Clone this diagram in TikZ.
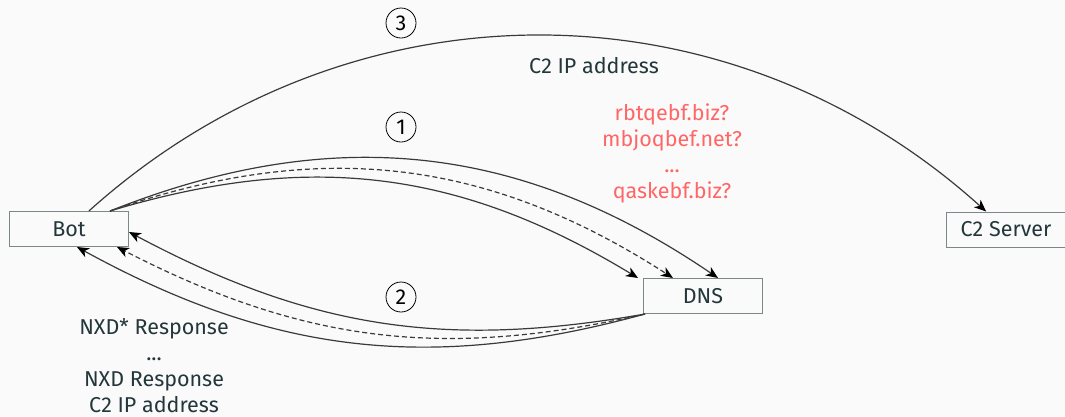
\documentclass[tikz,border=0pt]{standalone}
\usepackage{fontspec}
\setmainfont{Fira Sans}
\usetikzlibrary{arrows.meta}
\definecolor{bgc}{HTML}{FAFAFA}
\definecolor{tealdark}{HTML}{23373B}
\definecolor{redtxt}{HTML}{FF6666}
\definecolor{boxline}{RGB}{123,135,137}
\definecolor{arcline}{HTML}{3A3A3A}
\begin{document}
\begin{tikzpicture}[x=1pt,y=1pt,
  every node/.style={font=\fontsize{21.5}{26}\selectfont, text=tealdark},
  box/.style={draw=boxline, line width=1pt, minimum width=119, minimum height=35, inner sep=0pt},
  circ/.style={circle, draw=black, line width=0.8pt, minimum size=30, inner sep=0pt, text=black},
  arc/.style={draw=arcline, line width=1.2pt, -{Stealth[length=12pt,width=10pt,inset=3.5pt,fill=black,color=black]}},
  dash5/.style={dash pattern=on 5pt off 3pt}
]
\path[fill=bgc] (0,0) rectangle (1065,-416);
\useasboundingbox (0,0) rectangle (1065,-416);

\node[box] (bot) at (69,-229) {Bot};
\node[box] (dns) at (703,-296) {DNS};
\node[box] (c2) at (1006,-229.5) {C2 Server};

% step 3
\draw[arc] (bot) to[bend left=42] (c2);

% step 1
\coordinate (b1) at ([xshift=41]bot.north);
\coordinate (d1) at ([xshift=-65]dns.north);
\coordinate (d2) at ([xshift=-30]dns.north);
\coordinate (d3) at ([xshift=15]dns.north);
\draw[arc] (b1) to[bend left=24] (d1);
\draw[arc,dash5] (b1) to[bend left=26] (d2);
\draw[arc] (b1) to[bend left=28] (d3);

% step 2
\coordinate (s2) at ([xshift=2]dns.south west);
\coordinate (e1) at ([yshift=-3]bot.east);
\coordinate (e2) at ([xshift=48]bot.south);
\coordinate (e3) at ([xshift=8]bot.south);
\draw[arc] (s2) to[bend left=19] (e1);
\draw[arc,dash5] (s2) to[bend left=20] (e2);
\draw[arc] (s2) to[bend left=22] (e3);

\node[circ] (n3) at (401,-23) {3};
\node[circ] (n1) at (401,-127) {1};
\node[circ] (n2) at (401,-297) {2};

\node[anchor=base] (t3) at (594,-73) {C2 IP address};
\node[anchor=base, align=center, text=redtxt] (q) at (672,-198) {rbtqebf.biz?\\mbjoqbef.net?\\...\\qaskebf.biz?};
\node[anchor=base, align=center] (r) at (154,-412) {NXD* Response\\...\\NXD Response\\C2 IP address};
\end{tikzpicture}
\end{document}
